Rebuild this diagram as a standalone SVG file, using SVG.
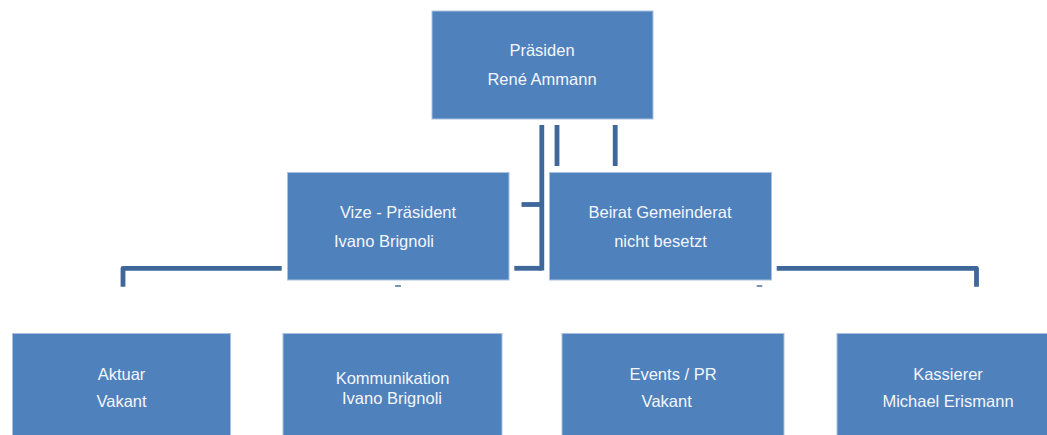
<svg xmlns="http://www.w3.org/2000/svg" width="1047" height="435" viewBox="0 0 1047 435">
<style>
.box{fill:#4f81bd;stroke:#a9c1df;stroke-width:1}
.t{font-family:"Liberation Sans","Open Sans",Arial,sans-serif;font-size:16.5px;fill:#f4f6fb;text-anchor:middle}
.c{fill:none;stroke:#3f6799;stroke-width:4.8;stroke-linejoin:round}
.tick{fill:#3f6799}
</style>
<rect width="1047" height="435" fill="#ffffff"/>
<g id="connectors">
<path class="c" d="M541.8,125 V270.5"/>
<path class="c" d="M521.5,204.5 H541.8"/>
<path class="c" d="M514.3,268.3 H541.8"/>
<path class="c" d="M557,125 V166"/>
<path class="c" d="M615.2,125 V166"/>
<path class="c" d="M281.7,268.3 H123 V286.7"/>
<path class="c" d="M776.7,268.3 H976.5 V286.7"/>
<rect class="tick" x="395" y="285.3" width="6" height="1.4"/>
<rect class="tick" x="756.7" y="285.3" width="5.6" height="1.4"/>
</g>
<g id="praesident">
<rect class="box" x="432" y="11" width="221" height="108"/>
<text class="t" x="542" y="56">Präsiden</text>
<text class="t" x="542" y="85">René Ammann</text>
</g>
<g id="vizepraesident">
<rect class="box" x="287.5" y="172.5" width="221.5" height="107.5"/>
<text class="t" x="398" y="218">Vize - Präsident</text>
<text class="t" x="384" y="246.5">Ivano Brignoli</text>
</g>
<g id="beirat">
<rect class="box" x="549.5" y="172.5" width="222" height="107.5"/>
<text class="t" x="660" y="218">Beirat Gemeinderat</text>
<text class="t" x="660.5" y="246.5">nicht besetzt</text>
</g>
<g id="aktuar">
<rect class="box" x="12.5" y="333.5" width="218" height="110"/>
<text class="t" x="121.5" y="379.5">Aktuar</text>
<text class="t" x="121.5" y="407">Vakant</text>
</g>
<g id="kommunikation">
<rect class="box" x="283" y="333.5" width="219" height="110"/>
<text class="t" x="392.5" y="383.5">Kommunikation</text>
<text class="t" x="392" y="403.5">Ivano Brignoli</text>
</g>
<g id="events">
<rect class="box" x="562" y="333.5" width="222" height="110"/>
<text class="t" x="673" y="379.5">Events / PR</text>
<text class="t" x="666.7" y="407">Vakant</text>
</g>
<g id="kassierer">
<rect class="box" x="837" y="333.5" width="222" height="110"/>
<text class="t" x="948" y="379.5">Kassierer</text>
<text class="t" x="948" y="407">Michael Erismann</text>
</g>
</svg>
